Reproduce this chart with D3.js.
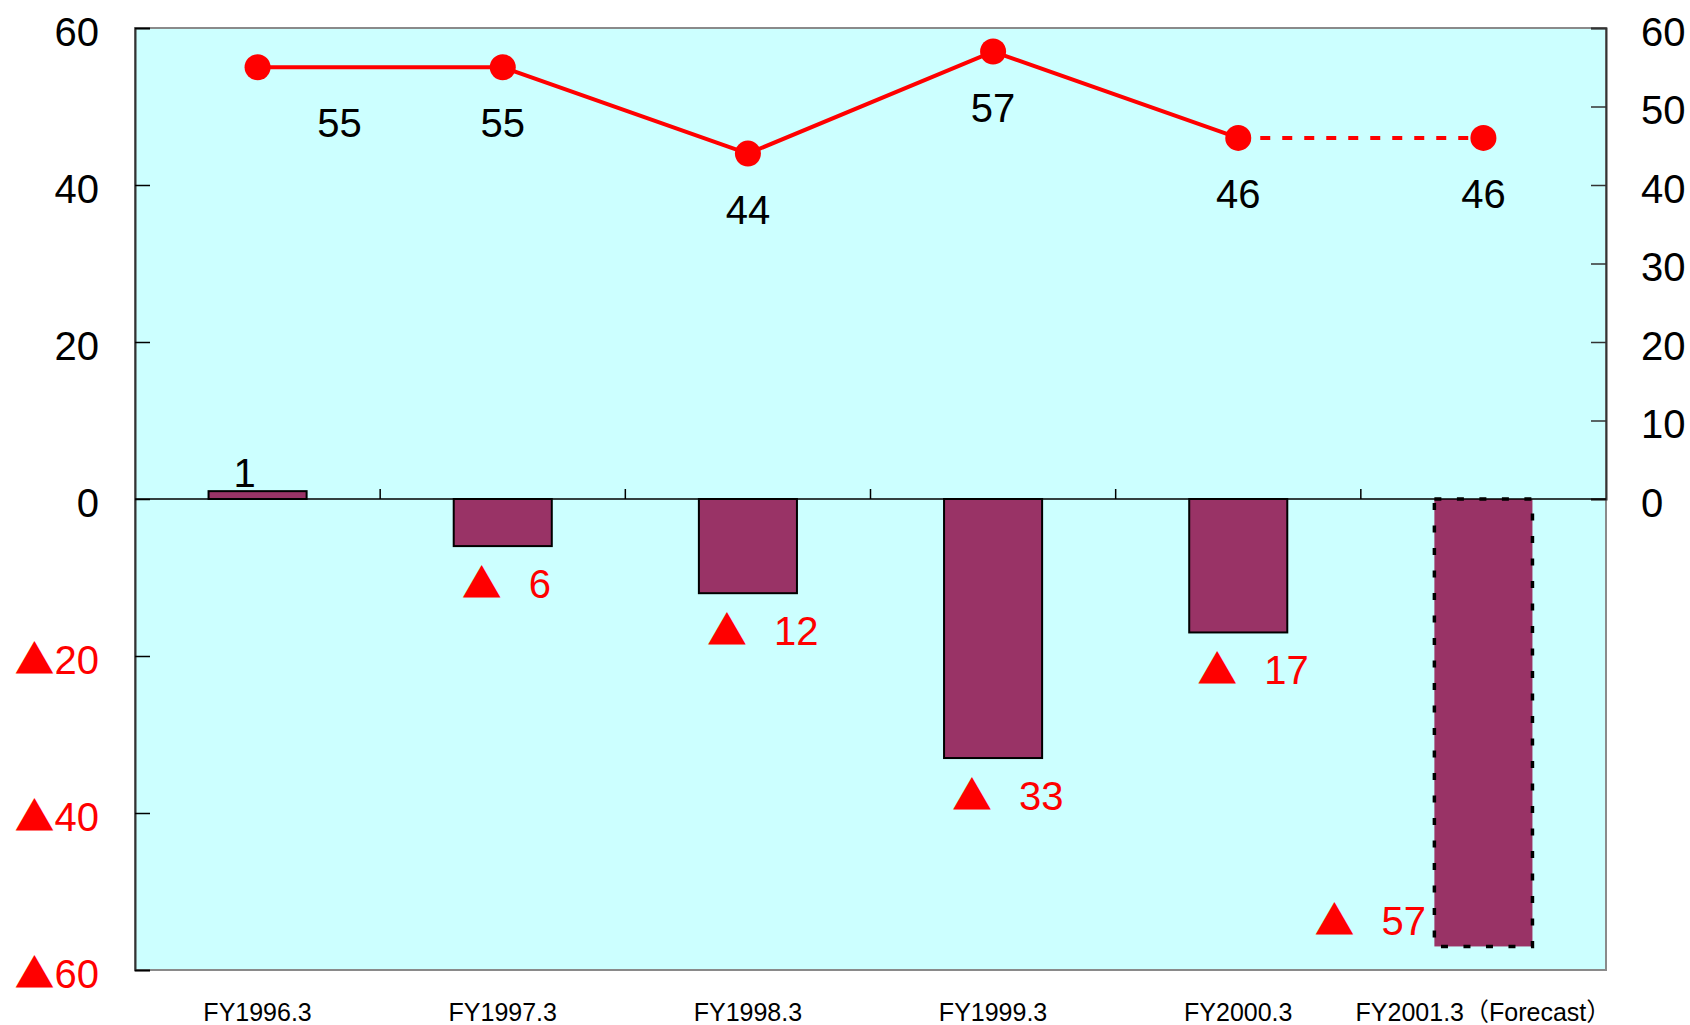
<!DOCTYPE html>
<html>
<head>
<meta charset="utf-8">
<script src="https://cdn.jsdelivr.net/npm/d3@7"></script>
<style>
  html, body { margin: 0; padding: 0; background: #ffffff; }
  svg { display: block; }
  .num { font-family: "Liberation Sans", Arial, "Noto Sans CJK JP", sans-serif; }
  .tri { font-family: "Noto Sans CJK JP", sans-serif; }
  .xlab { font-family: "Liberation Sans", Arial, "Noto Sans CJK JP", sans-serif; }
</style>
</head>
<body>
<svg id="chart" width="1690" height="1025"></svg>
<script>
// ---- data ----
const categories = ["FY1996.3", "FY1997.3", "FY1998.3", "FY1999.3", "FY2000.3", "FY2001.3（Forecast）"];
const barValues = [1, -6, -12, -33, -17, -57];
const lineValues = [55, 55, 44, 57, 46, 46];
const leftTicks = [-60, -40, -20, 0, 20, 40, 60];
const rightTicks = [0, 10, 20, 30, 40, 50, 60];
const forecastIndex = 5;

// ---- layout ----
const W = 1690, H = 1025;
const plot = { left: 135, right: 1606, top: 28, bottom: 970 };
const svg = d3.select("#chart");

const x = d3.scaleBand().domain(categories)
  .range([plot.left, plot.right]).paddingInner(0.6).paddingOuter(0.3);
const yL = d3.scaleLinear().domain([-60, 60]).range([plot.bottom, plot.top]);
const yR = d3.scaleLinear().domain([0, 60]).range([yL(0), plot.top]);
const cx = d => x(d) + x.bandwidth() / 2;

// background
svg.append("rect")
  .attr("x", plot.left).attr("y", plot.top)
  .attr("width", plot.right - plot.left).attr("height", plot.bottom - plot.top)
  .attr("fill", "#CCFFFF").attr("stroke", "#8a8a8a").attr("stroke-width", 2);

// left axis
const fmtL = d => d < 0 ? "▲" + (-d) : String(d);
const gL = svg.append("g").attr("transform", `translate(${plot.left},0)`)
  .call(d3.axisLeft(yL).tickValues(leftTicks).tickSize(-15).tickPadding(36).tickFormat(fmtL));
gL.select(".domain").attr("stroke", "#333").attr("stroke-width", 2);
gL.selectAll(".tick line").attr("stroke", "#000").attr("stroke-width", 1.5);
gL.selectAll(".tick text").each(function(d) {
  const t = d3.select(this);
  t.text(null).attr("class", "num").attr("font-size", 40)
    .attr("fill", d < 0 ? "#FF0000" : "#000").attr("dy", null).attr("y", 17);
  if (d < 0) {
    t.append("tspan").attr("class", "tri").text("▲");
    t.append("tspan").text(-d);
  } else {
    t.text(d);
  }
});

// right axis
const gR = svg.append("g").attr("transform", `translate(${plot.right},0)`)
  .call(d3.axisRight(yR).tickValues(rightTicks).tickSize(-15).tickPadding(35));
gR.select(".domain").attr("stroke", "#333").attr("stroke-width", 2);
gR.selectAll(".tick line").attr("stroke", "#333").attr("stroke-width", 1.5);
gR.selectAll(".tick text").attr("class", "num").attr("font-size", 40)
  .attr("fill", "#000").attr("dy", null).attr("y", 17);

// bars
svg.append("g").selectAll("rect")
  .data(barValues)
  .join("rect")
  .attr("x", (d, i) => x(categories[i]))
  .attr("width", x.bandwidth())
  .attr("y", d => yL(Math.max(0, d)))
  .attr("height", d => Math.abs(yL(d) - yL(0)))
  .attr("fill", "#993366")
  .attr("stroke", "#000")
  .attr("stroke-width", (d, i) => i === forecastIndex ? 3.5 : 2)
  .attr("stroke-dasharray", (d, i) => i === forecastIndex ? "7,15.5" : null);

// zero line
svg.append("line")
  .attr("x1", plot.left).attr("x2", plot.right)
  .attr("y1", yL(0)).attr("y2", yL(0))
  .attr("stroke", "#000").attr("stroke-width", 1.5);

// category boundary ticks on the zero line
const step = x.step();
svg.append("g").selectAll("line")
  .data(categories.slice(1))
  .join("line")
  .attr("x1", d => x(d) - step * x.paddingInner() / 2)
  .attr("x2", d => x(d) - step * x.paddingInner() / 2)
  .attr("y1", yL(0)).attr("y2", yL(0) - 10)
  .attr("stroke", "#000").attr("stroke-width", 1.5);

// x labels
svg.append("g").selectAll("text")
  .data(categories)
  .join("text")
  .attr("class", "xlab")
  .attr("x", d => cx(d))
  .attr("y", 1021)
  .attr("text-anchor", "middle")
  .attr("font-size", 25)
  .attr("fill", "#000")
  .text(d => d);

// line
const pts = lineValues.map((v, i) => [cx(categories[i]), yR(v)]);
svg.append("path")
  .attr("d", d3.line()(pts.slice(0, forecastIndex)))
  .attr("fill", "none").attr("stroke", "#FF0000").attr("stroke-width", 4);
svg.append("path")
  .attr("d", d3.line()(pts.slice(forecastIndex - 1)))
  .attr("fill", "none").attr("stroke", "#FF0000").attr("stroke-width", 4)
  .attr("stroke-dasharray", "10,12");
svg.append("g").selectAll("circle")
  .data(pts)
  .join("circle")
  .attr("cx", d => d[0]).attr("cy", d => d[1]).attr("r", 13)
  .attr("fill", "#FF0000");

// line labels
svg.append("g").selectAll("text")
  .data(lineValues)
  .join("text")
  .attr("class", "num")
  .attr("x", (d, i) => pts[i][0] + (i === 0 ? 82 : 0))
  .attr("y", (d, i) => pts[i][1] + 70)
  .attr("text-anchor", "middle")
  .attr("font-size", 40)
  .attr("fill", "#000")
  .text(d => d);

// bar labels
const gB = svg.append("g");
barValues.forEach((v, i) => {
  const c = cx(categories[i]);
  if (v >= 0) {
    gB.append("text").attr("class", "num")
      .attr("x", c - 13).attr("y", yL(v) - 4)
      .attr("text-anchor", "middle").attr("font-size", 40).attr("fill", "#000")
      .text(v);
  } else {
    const last = i === forecastIndex;
    const by = last ? yL(v) - 11 : yL(v) + 52;
    const triX = last ? c - 149 : c - 21;
    const numX = last ? c - 102 : c + 26;
    gB.append("text").attr("class", "tri")
      .attr("x", triX).attr("y", by)
      .attr("text-anchor", "middle").attr("font-size", 40).attr("fill", "#FF0000")
      .text("▲");
    gB.append("text").attr("class", "num")
      .attr("x", numX).attr("y", by)
      .attr("text-anchor", "start").attr("font-size", 40).attr("fill", "#FF0000")
      .text(-v);
  }
});
</script>
</body>
</html>
